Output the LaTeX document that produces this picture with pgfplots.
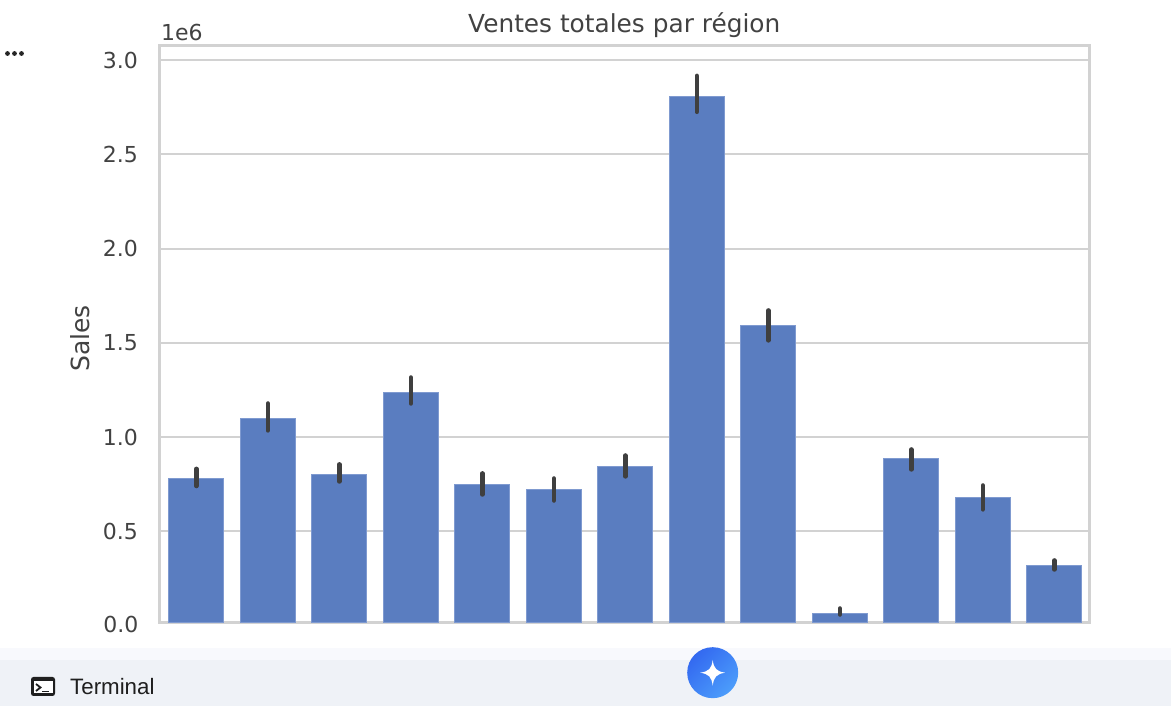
\documentclass[border=0pt]{standalone}
\usepackage{fontspec}
\setmainfont{DejaVu Sans}
\newfontfamily\uifont{Liberation Sans}
\usepackage{pgfplots}
\pgfplotsset{compat=1.18}
\definecolor{barblue}{HTML}{5A7DC0}
\definecolor{baredge}{HTML}{7F9AD0}
\definecolor{spine}{HTML}{D2D2D2}
\definecolor{inktext}{HTML}{424242}
\definecolor{errink}{HTML}{3F3F3F}
\definecolor{stripa}{HTML}{F8F9FD}
\definecolor{stripb}{HTML}{EFF2F7}
\definecolor{gema}{HTML}{3369F0}
\definecolor{gemb}{HTML}{4C9DFB}
\begin{document}
\begin{tikzpicture}[x=1pt,y=1pt]
% page furniture, 1pt = 1px, y from the bottom
\fill[white] (0,0) rectangle (1171,706);
\fill[stripa] (0,46) rectangle (1171,58);
\fill[stripb] (0,0) rectangle (1171,46);

\begin{axis}[
  at={(159.5pt,83.5pt)},
  anchor=south west,
  scale only axis,
  width=929.5pt,
  height=576.5pt,
  xmin=-0.514, xmax=12.486,
  % the bottom spine of the screenshot sits just above zero
  ymin=0.0156, ymax=3.0756,
  xtick=\empty,
  ytick={0.5,1,1.5,2,2.5,3},
  yticklabel style={
    xshift=-18pt,
    font=\fontsize{22}{24}\selectfont,
    text=inktext,
    /pgf/number format/fixed,
    /pgf/number format/fixed zerofill,
    /pgf/number format/precision=1,
    /pgf/number format/assume math mode=true,
  },
  major tick length=0pt,
  ymajorgrids,
  grid style={spine, line width=2pt},
  axis line style={spine, line width=3pt},
  ylabel={Sales},
  ylabel style={font=\fontsize{25}{27}\selectfont, text=inktext,
    at={(axis description cs:-0.0855,0.493)}, anchor=center},
  title={Ventes totales par région},
  title style={font=\fontsize{24.8}{27}\selectfont, text=inktext, yshift=-1.5pt},
]
\addplot[
  ybar,
  bar width=0.765,
  bar shift=0pt,
  fill=barblue,
  draw=baredge,
  line width=1pt,
  error bars/.cd,
    y dir=both, y explicit,
    error mark=none,
    error bar style={errink, line width=4.5pt, line cap=round},
] coordinates {
  (0, 0.779)  += (0,0.052) -= (0,0.039)
  (1, 1.096)  += (0,0.082) -= (0,0.061)
  (2, 0.801)  += (0,0.054) -= (0,0.037)
  (3, 1.239)  += (0,0.077) -= (0,0.061)
  (4, 0.746)  += (0,0.061) -= (0,0.051)
  (5, 0.722)  += (0,0.058) -= (0,0.059)
  (6, 0.841)  += (0,0.061) -= (0,0.050)
  (7, 2.808)  += (0,0.109) -= (0,0.082)
  (8, 1.590)  += (0,0.082) -= (0,0.077)
  (9, 0.063)  += (0,0.027) -= (0,0.005)
  (10,0.884)  += (0,0.050) -= (0,0.056)
  (11,0.677)  += (0,0.066) -= (0,0.061)
  (12,0.316)  += (0,0.029) -= (0,0.019)
};
\end{axis}

\node[font=\fontsize{22}{24}\selectfont, text=inktext, anchor=east, inner sep=0pt] at (138.5,82) {0.0};
\node[font=\fontsize{22}{24}\selectfont, text=inktext, anchor=base west, inner sep=0pt] at (161,665) {1e6};

% the three dots at the left of the notebook cell
\fill[black!85] (7.5,652.5) circle (2.4) (14.5,652.5) circle (2.4) (21.5,652.5) circle (2.4);

% terminal tab
\fill[black!88,rounded corners=2.5pt] (31,10) rectangle (55,29);
\fill[white] (33.5,12.5) rectangle (52.5,24.5);
\draw[black!88,line width=1.8pt] (36,22) -- (40.5,18.5) -- (36,15);
\draw[black!88,line width=1.8pt] (42,14.5) -- (49,14.5);
\node[font=\uifont\fontsize{22.3}{24}\selectfont, text=black!88, anchor=base west, inner sep=0pt] at (70,11.5) {Terminal};

% assistant button
\shade[left color=gema, right color=gemb, shading angle=45] (712.7,33.3) circle (25.5);
\fill[white] (712.7,46) .. controls (713.8,37.5) and (716.5,34.5) .. (725.2,33.3)
  .. controls (716.5,32) and (713.8,29) .. (712.7,20.3)
  .. controls (711.6,29) and (708.9,32) .. (700.2,33.3)
  .. controls (708.9,34.5) and (711.6,37.5) .. (712.7,46) -- cycle;
\end{tikzpicture}
\end{document}
